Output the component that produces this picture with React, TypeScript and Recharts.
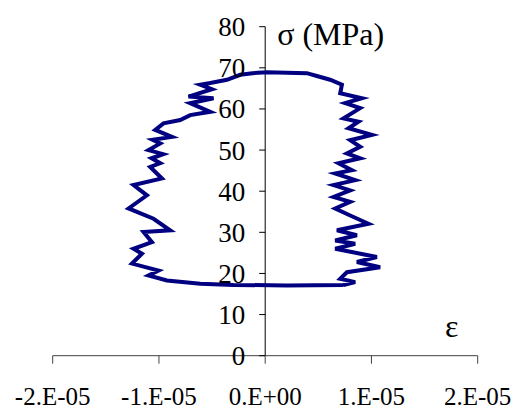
import { LineChart, Line, XAxis, YAxis, ReferenceLine, Label } from 'recharts';

// strain in units of 1e-6, stress in MPa; one closed loop, right side going up first
const strainMicro = [
  7.37, 8.47, 7.06, 7.69, 10.82, 8.63, 10.51, 6.59, 8.47, 6.59, 8.63, 6.75, 9.72, 8.0, 6.59, 8.0, 6.43, 8.0,
  6.43, 8.47, 6.59, 8.16, 6.9, 8.94, 7.69, 8.94, 8.0, 10.04, 7.84, 8.78, 7.37, 8.94, 7.53, 9.1, 7.06, 7.22,
  6.11, 4.86, 3.92, 2.0, 0.16, -1.2, -2.35, -3.6, -5.17, -6.11, -5.01, -7.22, -4.86, -7.06, -5.17, -7.06,
  -8.0, -9.57, -10.35, -8.78, -10.6, -9.88, -10.98, -9.6, -10.7, -9.88, -10.82, -9.72, -12.39, -11.13,
  -12.86, -10.51, -8.94, -11.45, -10.66, -12.39, -11.6, -12.54, -10.04, -10.98, -9.25, -6.11, -2.98, 2.0, 7.37,
];
const stress = [
  17.2, 17.9, 18.7, 20.3, 21.5, 22.8, 24.0, 26.0, 27.2, 28.0, 29.3, 30.5, 32.1, 34.1, 35.8, 37.4, 38.6, 40.2,
  41.5, 42.7, 44.3, 45.1, 46.8, 48.0, 49.2, 50.8, 52.4, 53.7, 55.3, 56.9, 57.7, 60.2, 61.4, 62.6, 63.8, 65.9,
  67.1, 68.0, 68.7, 68.8, 68.9, 68.7, 68.3, 67.1, 66.3, 65.9, 64.8, 63.0, 62.6, 61.4, 59.3, 58.5,
  57.3, 56.5, 54.9, 53.2, 52.5, 51.6, 50.0, 49.0, 48.0, 46.8, 45.9, 43.1, 41.5, 39.0,
  35.8, 33.3, 30.5, 30.1, 27.6, 26.0, 24.8, 22.4, 20.7, 19.5, 18.3, 17.5, 17.2, 17.1, 17.2,
];
const xTicks = [-2e-5, -1e-5, 0, 1e-5, 2e-5];
const yTicks = [0, 10, 20, 30, 40, 50, 60, 70, 80];

const data = strainMicro.map((s, i) => ({ x: s * 1e-6, y: stress[i] }));

const W = 519;
const H = 410;
const LEFT = 52.7;
const RIGHT = 41.3;
const PLOT_W = W - LEFT - RIGHT;
const AXIS_X = LEFT + PLOT_W / 2; // y axis sits at strain = 0
const FONT = "'Times New Roman', 'Liberation Serif', Times, serif";
const txt = { fontFamily: FONT };

// excel style: -2.E-05, 0.E+00
function sci(v: number) {
  if (v === 0) return '0.E+00';
  const e = Math.floor(Math.log10(Math.abs(v)) + 1e-9);
  const m = Math.round(v / Math.pow(10, e));
  const ee = String(Math.abs(e)).padStart(2, '0');
  return `${m}.E${e < 0 ? '-' : '+'}${ee}`;
}

function XTick(props: any) {
  const { x, y, payload } = props;
  return (
    <text x={x} y={y} dy="0.71em" textAnchor="middle" fontSize={25} fontFamily={FONT} style={txt} fill="#000">
      {sci(payload.value)}
    </text>
  );
}

function YTick(props: any) {
  const { y, payload } = props;
  return (
    <g>
      <line x1={AXIS_X - 6} x2={AXIS_X} y1={y} y2={y} stroke="#000" />
      <text x={AXIS_X - 20} y={y} dy="0.35em" textAnchor="end" fontSize={27} fontFamily={FONT} style={txt} fill="#000">
        {payload.value}
      </text>
    </g>
  );
}

export default function App() {
  return (
    <div style={{ position: 'absolute', left: 0, top: 0, fontFamily: FONT }}>
      <LineChart width={W} height={H} data={data} margin={{ top: 26.7, right: RIGHT, bottom: 0, left: 0 }}>
        <XAxis
          type="number"
          dataKey="x"
          domain={[-2e-5, 2e-5]}
          ticks={xTicks}
          interval={0}
          height={54.3}
          stroke="#404040"
          tickSize={8}
          tickMargin={24}
          tick={<XTick />}
          label={
            <Label
              content={(p: any) => (
                <text
                  x={p.viewBox.x + p.viewBox.width - 26}
                  y={p.viewBox.y - 18.5}
                  textAnchor="middle"
                  fontSize={32}
                  fontFamily={FONT}
                  style={txt}
                  fill="#000"
                >
                  ε
                </text>
              )}
            />
          }
        />
        <YAxis
          type="number"
          dataKey="y"
          domain={[0, 80]}
          ticks={yTicks}
          interval={0}
          width={LEFT}
          axisLine={false}
          tickLine={false}
          tick={<YTick />}
        />
        <ReferenceLine x={0} stroke="#000">
          <Label
            content={(p: any) => (
              <text
                x={p.viewBox.x + 12}
                y={p.viewBox.y + 18.5}
                textAnchor="start"
                fontSize={32}
                fontFamily={FONT}
                style={txt}
                fill="#000"
              >
                σ (MPa)
              </text>
            )}
          />
        </ReferenceLine>
        <Line
          type="linear"
          dataKey="y"
          stroke="#000080"
          strokeWidth={4}
          dot={false}
          isAnimationActive={false}
        />
      </LineChart>
    </div>
  );
}
